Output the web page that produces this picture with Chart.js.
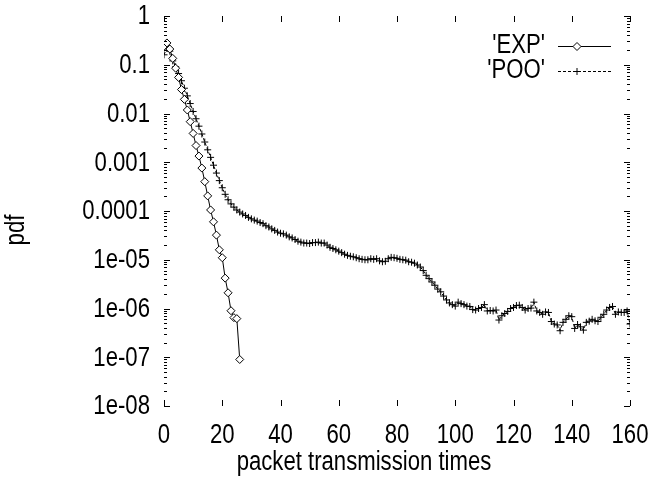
<!DOCTYPE html>
<html>
<head>
<meta charset="utf-8">
<script src="https://cdn.jsdelivr.net/npm/chart.js@4/dist/chart.umd.min.js"></script>
<style>
  body { margin: 0; background: #fff; }
  #wrap { width: 659px; height: 481px; }
</style>
</head>
<body>
<div id="wrap"><canvas id="pdfChart"></canvas></div>
<script>
// EXP series (diamonds, solid line)
var expX = [0, 1, 2, 3, 4, 5, 6, 7, 8, 9, 10, 11, 12, 13, 14, 15, 16, 17, 18, 19, 20, 21, 22, 23, 24, 25, 26];
var expPdf = [0.24, 0.28, 0.21, 0.135, 0.085, 0.055, 0.031, 0.0195, 0.0118, 0.0068, 0.0039, 0.0022, 0.00134,
  0.00076, 0.0004, 0.000204, 0.000105, 6.0e-5, 3.2e-5, 1.6e-5, 1.1e-5, 4.2e-6, 2.1e-6, 9.0e-7, 6.5e-7, 6.2e-7, 9.0e-8];

// POO series (plus marks, dashed line)
var pooX = [0, 1, 2, 3, 4, 5, 6, 7, 8, 9, 10, 11, 12, 13, 14, 15, 16, 17, 18, 19, 20,
  21, 22, 23, 24, 25, 26, 27, 28, 29, 30, 31, 32, 33, 34, 35, 36, 37, 38, 39, 40,
  41, 42, 43, 44, 45, 46, 47, 48, 49, 50, 51, 52, 53, 54, 55, 56, 57, 58, 59, 60,
  61, 62, 63, 64, 65, 66, 67, 68, 69, 70, 71, 72, 73, 74, 75, 76, 77, 78, 79, 80,
  81, 82, 83, 84, 85, 86, 87, 88, 89, 90, 91, 92, 93, 94, 95, 96, 97, 98, 99, 100,
  101, 102, 103, 104, 105, 106, 107, 108, 109, 110, 111, 112, 113, 114, 115, 116, 117, 118, 119, 120,
  121, 122, 123, 124, 125, 126, 127, 128, 129, 130, 131, 132, 133, 134, 135, 136, 137, 138, 139, 140,
  141, 142, 143, 144, 145, 146, 147, 148, 149, 150, 151, 152, 153, 154, 155, 156, 157, 158, 159, 160];
var pooPdf = [0.16, 0.22, 0.19, 0.12, 0.091, 0.066, 0.047, 0.033, 0.023, 0.016, 0.011,
  0.0078, 0.0055, 0.0038, 0.0026, 0.0018, 0.00126, 0.00087, 0.0006, 0.00042, 0.0003,
  0.00022, 0.00017, 0.00014, 0.00012, 0.000105, 9.5e-5, 8.7e-5, 8.1e-5, 7.4e-5, 6.9e-5,
  6.5e-5, 6.2e-5, 5.8e-5, 5.5e-5, 5.0e-5, 4.7e-5, 4.3e-5, 4.0e-5, 3.7e-5, 3.5e-5,
  3.4e-5, 3.2e-5, 2.95e-5, 2.8e-5, 2.6e-5, 2.4e-5, 2.3e-5, 2.2e-5, 2.2e-5, 2.15e-5,
  2.25e-5, 2.25e-5, 2.3e-5, 2.2e-5, 2.2e-5, 2.0e-5, 1.8e-5, 1.7e-5, 1.6e-5, 1.5e-5,
  1.4e-5, 1.3e-5, 1.23e-5, 1.18e-5, 1.15e-5, 1.1e-5, 1.05e-5, 1.02e-5, 1.0e-5, 1.0e-5,
  1.05e-5, 1.02e-5, 1.05e-5, 9.5e-6, 9.1e-6, 9.3e-6, 1.05e-5, 1.12e-5, 1.1e-5, 1.07e-5,
  1.02e-5, 1.0e-5, 9.8e-6, 9.1e-6, 8.9e-6, 8.5e-6, 7.8e-6, 7.1e-6, 6.0e-6, 4.8e-6,
  4.1e-6, 3.5e-6, 3.0e-6, 2.5e-6, 2.2e-6, 1.8e-6, 1.5e-6, 1.3e-6, 1.2e-6, 1.12e-6,
  1.35e-6, 1.26e-6, 1.2e-6, 1.12e-6, 1.1e-6, 9.5e-7, 9.3e-7, 1.0e-6, 1.05e-6, 1.2e-6,
  8.9e-7, 9.1e-7, 8.9e-7, 9.3e-7, 5.8e-7, 7.1e-7, 7.9e-7, 8.7e-7, 1.0e-6, 1.05e-6,
  1.15e-6, 1.17e-6, 1.05e-6, 9.3e-7, 1.0e-6, 1.02e-6, 1.35e-6, 8.9e-7, 8.3e-7, 7.6e-7,
  8.5e-7, 8.3e-7, 5.4e-7, 4.8e-7, 4.6e-7, 3.5e-7, 5.2e-7, 6.0e-7, 7.1e-7, 6.8e-7,
  3.9e-7, 4.7e-7, 4.2e-7, 3.6e-7, 5.2e-7, 5.5e-7, 6.0e-7, 5.6e-7, 5.4e-7, 6.6e-7,
  7.6e-7, 9.3e-7, 1.05e-6, 1.1e-6, 7.6e-7, 8.5e-7, 8.3e-7, 8.3e-7, 8.9e-7, 4.8e-7];

// axis ticks and titles
var xTickValues = [0, 20, 40, 60, 80, 100, 120, 140, 160];
var xTickLabels = ["0", "20", "40", "60", "80", "100", "120", "140", "160"];
var yTickValues = [1, 0.1, 0.01, 0.001, 0.0001, 1e-5, 1e-6, 1e-7, 1e-8];
var yTickLabels = ["1", "0.1", "0.01", "0.001", "0.0001", "1e-05", "1e-06", "1e-07", "1e-08"];
var xTitle = "packet transmission times";
var yTitle = "pdf";

var FONT = "27px 'Liberation Sans', Arial, sans-serif";
var SQUEEZE = 0.82; // gnuplot's font is a narrow helvetica

function toPoints(xs, ys) {
    var pts = [];
    for (var i = 0; i < xs.length; i++) pts.push({ x: xs[i], y: ys[i] });
    return pts;
}

// narrow text: horizontal squeeze of the regular face
function narrowText(ctx, text, x, y, align, rot) {
    ctx.save();
    ctx.translate(x, y);
    if (rot) ctx.rotate(rot);
    ctx.scale(SQUEEZE, 1);
    ctx.font = FONT;
    ctx.fillStyle = "#000";
    ctx.textAlign = align;
    ctx.textBaseline = "middle";
    ctx.fillText(text, 0, 0);
    ctx.restore();
}

// gnuplot style inward tick marks on all four sides + tick labels
var gnuAxes = {
    id: "gnuAxes",
    afterDatasetsDraw: function (chart) {
        var ctx = chart.ctx, a = chart.chartArea;
        var xs = chart.scales.x, ys = chart.scales.y;
        ctx.save();
        ctx.strokeStyle = "#000";
        ctx.lineWidth = 1;
        ctx.beginPath();
        xTickValues.forEach(function (v) {
            var px = Math.round(xs.getPixelForValue(v)) + 0.5;
            ctx.moveTo(px, a.bottom); ctx.lineTo(px, a.bottom - 6);
            ctx.moveTo(px, a.top); ctx.lineTo(px, a.top + 6);
        });
        yTickValues.forEach(function (v) {
            var py = Math.round(ys.getPixelForValue(v)) + 0.5;
            ctx.moveTo(a.left, py); ctx.lineTo(a.left + 6, py);
            ctx.moveTo(a.right, py); ctx.lineTo(a.right - 6, py);
        });
        // minor ticks 2..9 inside each decade
        for (var d = 1; d < yTickValues.length; d++) {
            for (var m = 2; m <= 9; m++) {
                var py = Math.round(ys.getPixelForValue(yTickValues[d] * m)) + 0.5;
                ctx.moveTo(a.left, py); ctx.lineTo(a.left + 3, py);
                ctx.moveTo(a.right, py); ctx.lineTo(a.right - 3, py);
            }
        }
        ctx.stroke();
        ctx.restore();

        xTickValues.forEach(function (v, i) {
            narrowText(ctx, xTickLabels[i], xs.getPixelForValue(v), a.bottom + 30, "center");
        });
        yTickValues.forEach(function (v, i) {
            narrowText(ctx, yTickLabels[i], a.left - 14, ys.getPixelForValue(v) + 1, "right");
        });
        narrowText(ctx, xTitle, 364, 463, "center");
        narrowText(ctx, yTitle, 17, 230, "center", -Math.PI / 2);
    }
};

// gnuplot style key: label then sample line with a mark
var gnuKey = {
    id: "gnuKey",
    afterDraw: function (chart) {
        var ctx = chart.ctx;
        chart.data.datasets.forEach(function (ds, i) {
            var y = 46 + i * 25;
            narrowText(ctx, ds.label, 545, y, "right");
            ctx.save();
            ctx.strokeStyle = "#000";
            ctx.lineWidth = 1;
            ctx.setLineDash(ds.borderDash || []);
            ctx.beginPath();
            ctx.moveTo(558, y + 0.5); ctx.lineTo(611, y + 0.5);
            ctx.stroke();
            ctx.setLineDash([]);
            ctx.fillStyle = ds.pointBackgroundColor;
            Chart.helpers.drawPoint(ctx, {
                pointStyle: ds.pointStyle, radius: ds.pointRadius,
                rotation: 0, borderWidth: 1
            }, 577, y + 0.5);
            ctx.restore();
        });
    }
};

var ctx = document.getElementById("pdfChart").getContext("2d");
var chart = new Chart(ctx, {
    type: "line",
    data: {
        datasets: [
            {
                label: "'EXP'",
                data: toPoints(expX, expPdf),
                borderColor: "#000",
                borderWidth: 1,
                pointStyle: "rectRot",
                pointRadius: 4,
                pointBorderWidth: 1,
                pointBorderColor: "#000",
                pointBackgroundColor: "#fff",
                fill: false,
                tension: 0
            },
            {
                label: "'POO'",
                data: toPoints(pooX, pooPdf),
                borderColor: "#000",
                borderWidth: 1,
                borderDash: [3, 2],
                pointStyle: "cross",
                pointRadius: 3.5,
                pointBorderWidth: 1,
                pointBorderColor: "#000",
                pointBackgroundColor: "#000",
                fill: false,
                tension: 0
            }
        ]
    },
    options: {
        responsive: true,
        maintainAspectRatio: false,
        animation: false,
        layout: { padding: { top: 16, right: 29, bottom: 0, left: 0 } },
        plugins: {
            legend: { display: false },
            tooltip: { enabled: false }
        },
        scales: {
            x: {
                type: "linear",
                min: 0,
                max: 160,
                afterFit: function (scale) { scale.height = 75; },
                grid: { display: false, drawTicks: false },
                border: { display: false },
                ticks: { display: false }
            },
            y: {
                type: "logarithmic",
                min: 1e-8,
                max: 1,
                afterFit: function (scale) { scale.width = 164; },
                grid: { display: false, drawTicks: false },
                border: { display: false },
                ticks: { display: false }
            }
        }
    },
    plugins: [gnuAxes, gnuKey]
});
</script>
</body>
</html>
